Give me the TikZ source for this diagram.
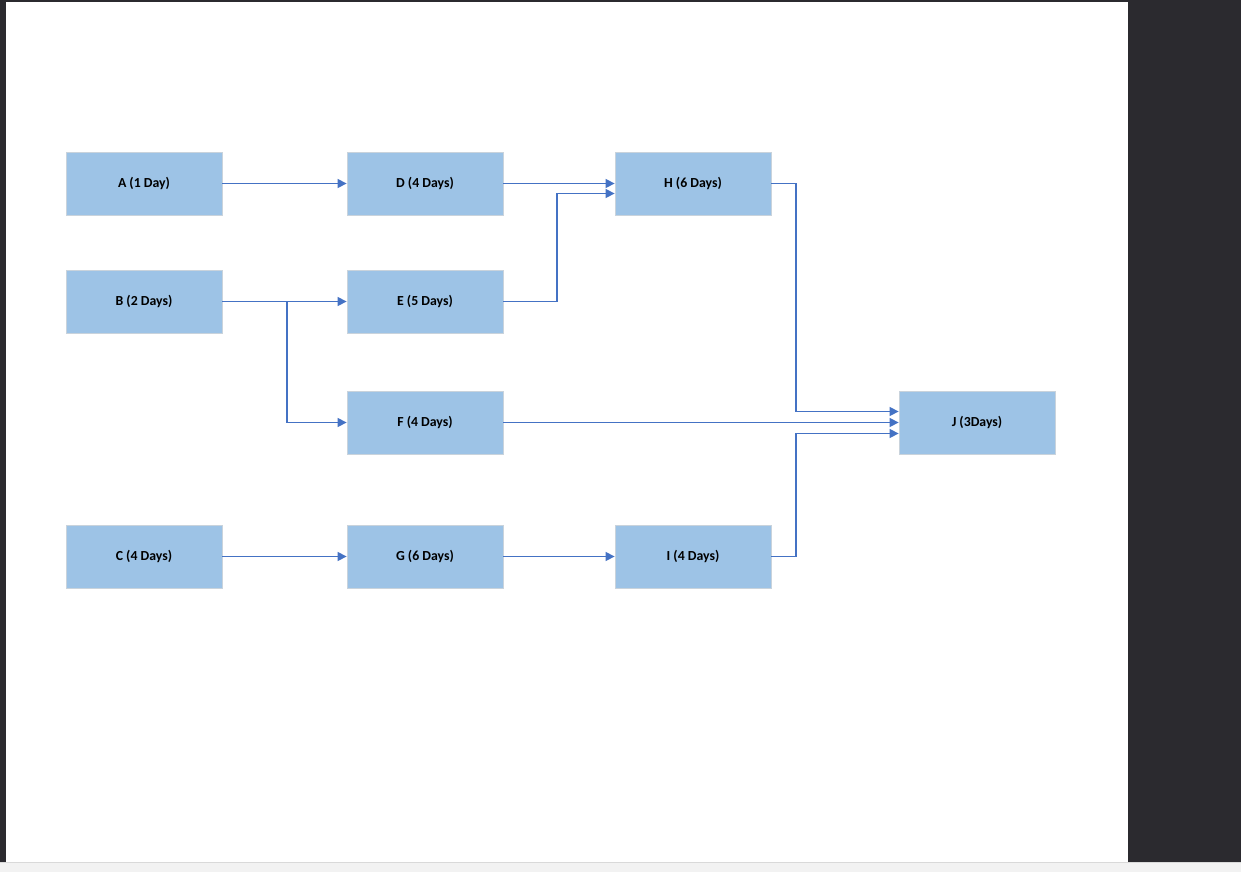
\documentclass[tikz,border=0pt]{standalone}
\usepackage{fontspec}
\setmainfont{Carlito}
\usetikzlibrary{arrows.meta}
\definecolor{boxfill}{HTML}{9DC3E6}
\definecolor{boxline}{HTML}{C9D3DC}
\definecolor{arrowc}{HTML}{4472C4}
\definecolor{darkbg}{HTML}{2B2A2F}
\definecolor{graybar}{HTML}{F2F2F2}
\tikzset{
  task/.style={draw=boxline, line width=0.8pt, fill=boxfill, minimum width=156pt, minimum height=63pt, inner sep=0pt, font=\fontsize{13.8}{16}\selectfont\bfseries, text=black},
  link/.style={draw=arrowc, line width=1.3pt, -{Triangle[length=9pt,width=9pt]}},
}
\begin{document}
\begin{tikzpicture}[x=1pt,y=-1pt]
\useasboundingbox (0,0) rectangle (1241,872);
\fill[darkbg] (0,0) rectangle (1241,872);
\fill[white] (6,2) rectangle (1128,862);
\fill[graybar] (0,863) rectangle (1241,872);
\draw[gray!30, line width=1pt] (0,862.5) -- (1241,862.5);

\node[task] (A) at (144,183.5) {A (1 Day)};
\node[task] (B) at (144,301.5) {B (2 Days)};
\node[task] (C) at (144,556.5) {C (4 Days)};
\node[task] (D) at (425,183.5) {D (4 Days)};
\node[task] (E) at (425,301.5) {E (5 Days)};
\node[task] (F) at (425,422.5) {F (4 Days)};
\node[task] (G) at (425,556.5) {G (6 Days)};
\node[task] (H) at (693,183.5) {H (6 Days)};
\node[task] (I) at (693,556.5) {I (4 Days)};
\node[task] (J) at (977,422.5) {J (3Days)};

\coordinate (Hin2) at ([yshift=-10pt]H.west);
\coordinate (Jin1) at ([yshift=11pt]J.west);
\coordinate (Jin3) at ([yshift=-11pt]J.west);

\draw[link] (A.east) -- (D.west);
\draw[link] (D.east) -- (H.west);
\draw[link] (E.east) -- (557,301.5) |- (Hin2);
\draw[link] (B.east) -- (E.west);
\draw[link] (B.east) -- (287,301.5) |- (F.west);
\draw[link] (H.east) -- (796,183.5) |- (Jin1);
\draw[link] (F.east) -- (J.west);
\draw[link] (I.east) -- (796,556.5) |- (Jin3);
\draw[link] (C.east) -- (G.west);
\draw[link] (G.east) -- (I.west);
\end{tikzpicture}
\end{document}
